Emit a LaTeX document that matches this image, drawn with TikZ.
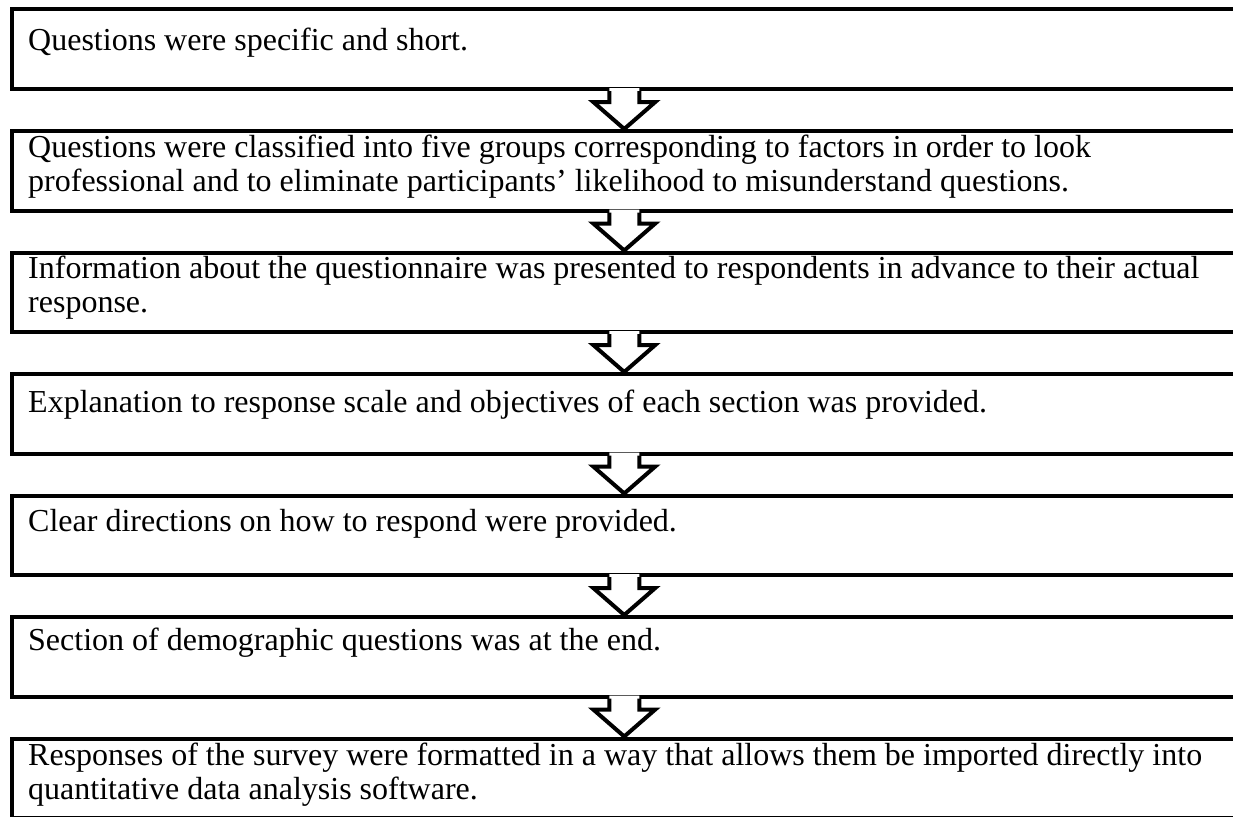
\documentclass[tikz,border=0pt]{standalone}
\usepackage{fontspec}
\setmainfont{Liberation Serif}
\usetikzlibrary{calc}

% drawing unit: 1pt, y axis pointing down
\newcommand{\stepfont}{\fontsize{32}{34}\selectfont}

% down arrow from the bottom of one box to the top of the next
\newcommand{\flowarrow}[2]{%
  \path (#1.south) coordinate (#1-s) (#2.north) coordinate (#2-n);
  \fill[white] ($(#1-s)+(-15,-3)$) -- ($(#1-s)+(-15,11)$) -- ($(#1-s)+(-31,11)$)
     -- (#1-s |- #2-n) -- ($(#1-s)+(31,11)$) -- ($(#1-s)+(15,11)$)
     -- ($(#1-s)+(15,-3)$) -- cycle;
  \draw[flowline] ($(#1-s)+(-15,0)$) -- ($(#1-s)+(-15,11)$) -- ($(#1-s)+(-31,11)$)
     -- (#1-s |- #2-n) -- ($(#1-s)+(31,11)$) -- ($(#1-s)+(15,11)$) -- ($(#1-s)+(15,0)$);
}

\begin{document}
\begin{tikzpicture}[x=1pt,y=-1pt,
  stepbox/.style={draw=black, line width=4pt, rectangle, inner sep=0pt,
    minimum width=1224.5pt, minimum height=79.5pt, anchor=north west},
  steptext/.style={anchor=north west, inner sep=0pt, align=left, font=\stepfont},
  flowline/.style={line width=4pt, line join=miter, miter limit=10}]

\useasboundingbox (0,0) rectangle (1233,816);
\clip (0,0) rectangle (1233,816);

\node[stepbox] (b1) at (10,7.5) {};
\node[stepbox] (b2) at (10,129) {};
\node[stepbox] (b3) at (10,250.5) {};
\node[stepbox] (b4) at (10,372) {};
\node[stepbox] (b5) at (10,493.5) {};
\node[stepbox] (b6) at (10,615) {};
\node[stepbox] (b7) at (10,736.5) {};

\flowarrow{b1}{b2}
\flowarrow{b2}{b3}
\flowarrow{b3}{b4}
\flowarrow{b4}{b5}
\flowarrow{b5}{b6}
\flowarrow{b6}{b7}

\node[steptext] (t1) at (28,26.7) {\strut Questions were specific and short.};
\node[steptext] (t2) at (28,133.2) {\strut Questions were classified into five groups corresponding to factors in order to look\\
  \strut professional and to eliminate participants’ likelihood to misunderstand questions.};
\node[steptext] (t3) at (28,254.7) {\strut Information about the questionnaire was presented to respondents in advance to their actual\\
  \strut response.};
\node[steptext] (t4) at (28,388.2) {\strut Explanation to response scale and objectives of each section was provided.};
\node[steptext] (t5) at (28,507.2) {\strut Clear directions on how to respond were provided.};
\node[steptext] (t6) at (28,626.2) {\strut Section of demographic questions was at the end.};
\node[steptext] (t7) at (28,741.7) {\strut Responses of the survey were formatted in a way that allows them be imported directly into\\
  \strut quantitative data analysis software.};
\end{tikzpicture}
\end{document}
